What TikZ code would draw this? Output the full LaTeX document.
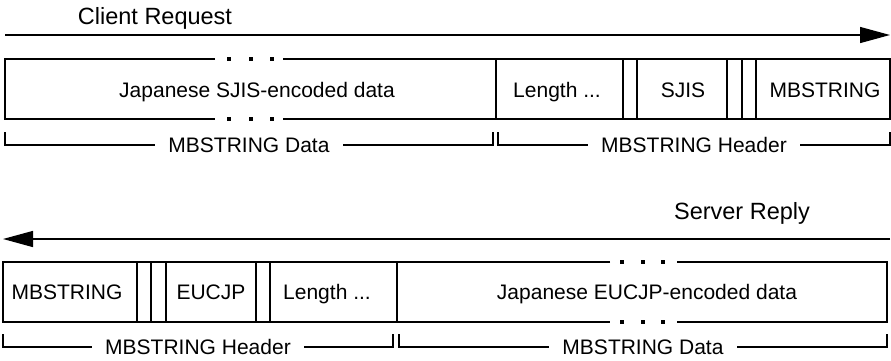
\documentclass[tikz,border=0pt]{standalone}
\usepackage{fontspec}
\setmainfont{Liberation Sans}
\usetikzlibrary{arrows.meta}

\begin{document}
\begin{tikzpicture}[x=1pt,y=-1pt,line width=1.3pt]
   \tikzstyle{lbl} = [inner sep=0pt, text height=15pt, text depth=0pt, font=\fontsize{21}{25}\selectfont]
   \tikzstyle{ttl} = [inner sep=0pt, text height=17pt, text depth=0pt, font=\fontsize{23.5}{28}\selectfont]
   \tikzstyle{brk} = [lbl, inner xsep=13pt]
   \tikzstyle{flow} = [draw, -{Triangle[length=30pt,width=16pt]}]
   \tikzstyle{dot} = [fill, minimum size=4pt, inner sep=0pt]
   \useasboundingbox (0,0) rectangle (891,360);

   % client request
   \node[ttl] (req) at (155,15.5) {Client Request};
   \coordinate (reqs) at (5,35);
   \coordinate (reqe) at (890,35);
   \path[flow] (reqs) -- (reqe);

   \draw (215,59) -- (5,59) -- (5,119) -- (215,119);
   \draw (283,59) -- (890,59) -- (890,119) -- (283,119);
   \foreach \x in {229,251,272} {
      \node[dot] (tdu\x) at (\x,59) {};
      \node[dot] (tdl\x) at (\x,119) {};
   }
   \foreach \x in {496,623,637,727,742,756}
      \draw (\x,59) -- (\x,119);

   \node[lbl] (sjisdata) at (257,90) {Japanese SJIS-encoded data};
   \node[lbl] (reqlen) at (557,90) {Length ...};
   \node[lbl] (sjis) at (683,90) {SJIS};
   \node[lbl] (reqmb) at (825,90) {MBSTRING};

   \coordinate (rdl) at (5,132);
   \coordinate (rdr) at (493,132);
   \coordinate (rhl) at (498,132);
   \coordinate (rhr) at (890,132);
   \node[brk] (reqdata) at (249,145) {MBSTRING Data};
   \node[brk] (reqhdr) at (694,145) {MBSTRING Header};
   \draw (rdl) |- (reqdata);
   \draw (rdr) |- (reqdata);
   \draw (rhl) |- (reqhdr);
   \draw (rhr) |- (reqhdr);

   % server reply
   \node[ttl] (rep) at (742,210.5) {Server Reply};
   \coordinate (reps) at (890,239);
   \coordinate (repe) at (3,239);
   \path[flow] (reps) -- (repe);

   \draw (610,262) -- (3,262) -- (3,322) -- (610,322);
   \draw (677,262) -- (887,262) -- (887,322) -- (677,322);
   \foreach \x in {622,643,663} {
      \node[dot] (bdu\x) at (\x,262) {};
      \node[dot] (bdl\x) at (\x,322) {};
   }
   \foreach \x in {137,151,166,256,270,397}
      \draw (\x,262) -- (\x,322);

   \node[lbl] (repmb) at (67,292) {MBSTRING};
   \node[lbl] (eucjp) at (211,292) {EUCJP};
   \node[lbl] (replen) at (327,292) {Length ...};
   \node[lbl] (eucdata) at (647,292) {Japanese EUCJP-encoded data};

   \coordinate (phl) at (3,334);
   \coordinate (phr) at (393,334);
   \coordinate (pdl) at (399,334);
   \coordinate (pdr) at (887,334);
   \node[brk] (rephdr) at (198,347) {MBSTRING Header};
   \node[brk] (repdata) at (643,347) {MBSTRING Data};
   \draw (phl) |- (rephdr);
   \draw (phr) |- (rephdr);
   \draw (pdl) |- (repdata);
   \draw (pdr) |- (repdata);
\end{tikzpicture}
\end{document}
